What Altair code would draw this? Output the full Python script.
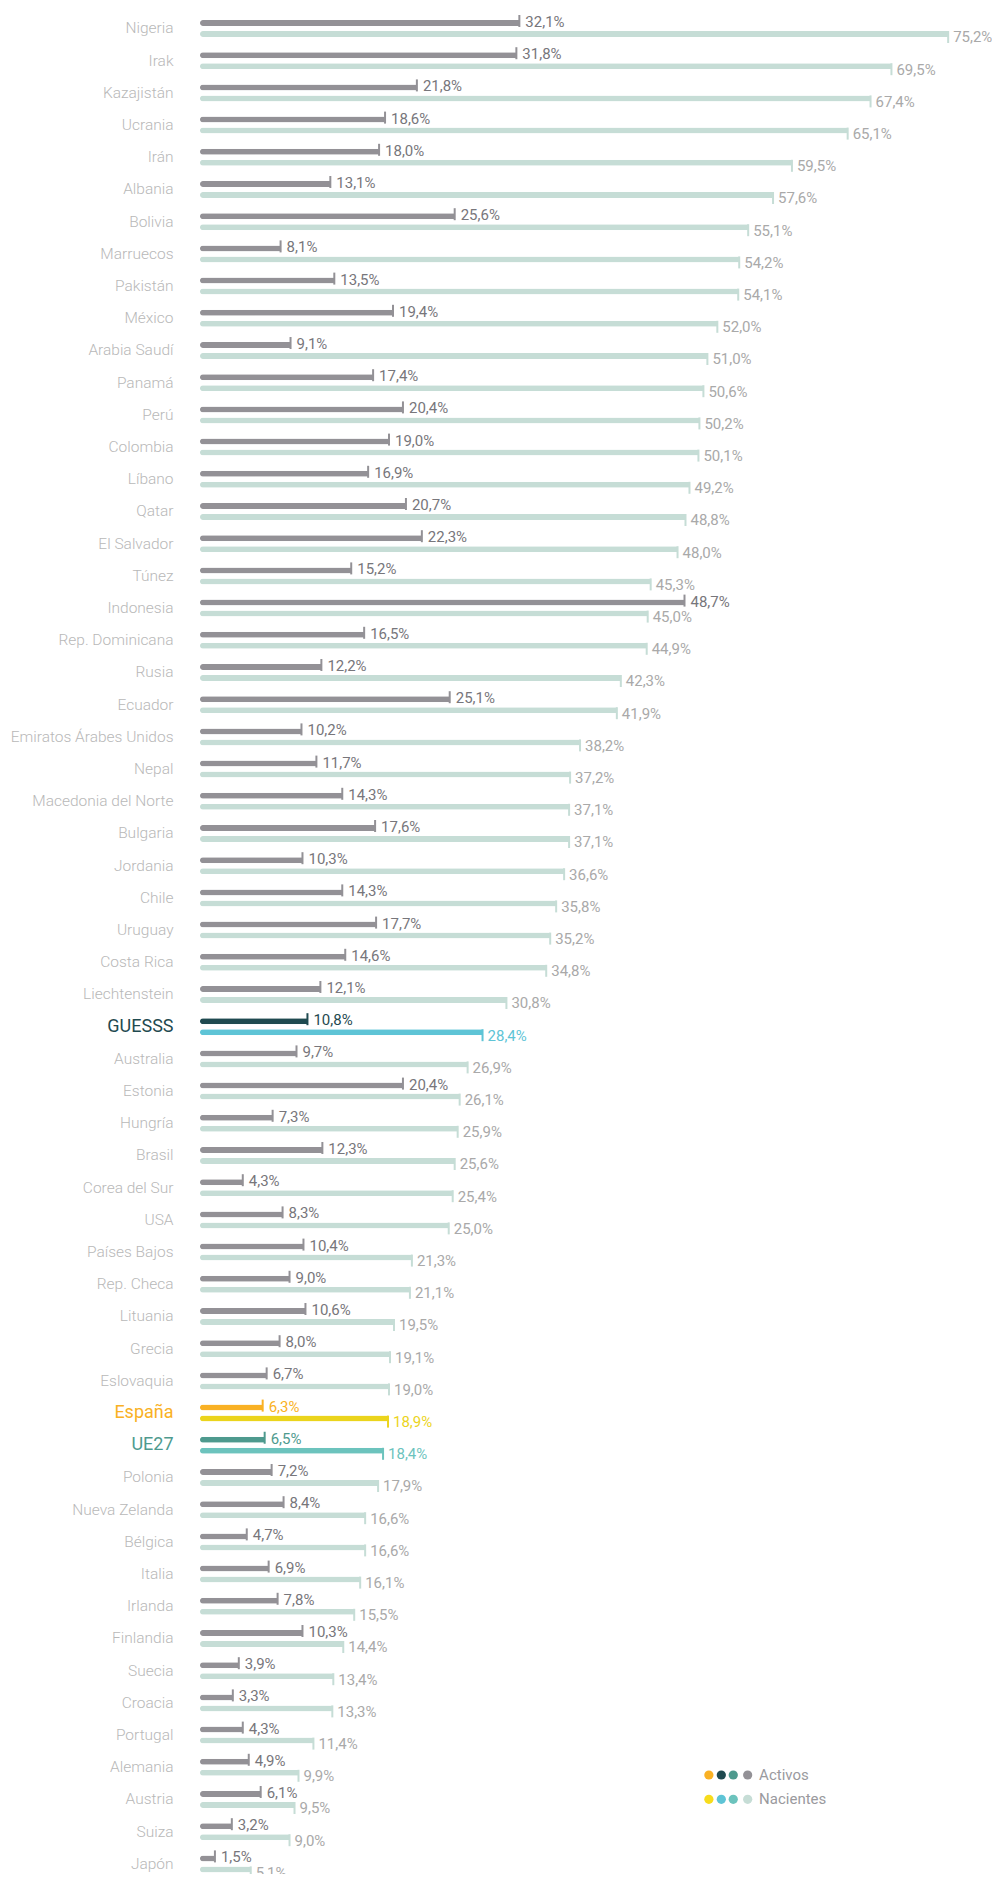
import altair as alt
import pandas as pd

countries = ["Nigeria", "Irak", "Kazajistán", "Ucrania", "Irán", "Albania", "Bolivia", "Marruecos",
             "Pakistán", "México", "Arabia Saudí", "Panamá", "Perú", "Colombia", "Líbano", "Qatar",
             "El Salvador", "Túnez", "Indonesia", "Rep. Dominicana", "Rusia", "Ecuador",
             "Emiratos Árabes Unidos", "Nepal", "Macedonia del Norte", "Bulgaria", "Jordania", "Chile",
             "Uruguay", "Costa Rica", "Liechtenstein", "GUESSS", "Australia", "Estonia", "Hungría",
             "Brasil", "Corea del Sur", "USA", "Países Bajos", "Rep. Checa", "Lituania", "Grecia",
             "Eslovaquia", "España", "UE27", "Polonia", "Nueva Zelanda", "Bélgica", "Italia", "Irlanda",
             "Finlandia", "Suecia", "Croacia", "Portugal", "Alemania", "Austria", "Suiza", "Japón"]
activos = [32.1, 31.8, 21.8, 18.6, 18.0, 13.1, 25.6, 8.1, 13.5, 19.4, 9.1, 17.4, 20.4, 19.0, 16.9, 20.7,
           22.3, 15.2, 48.7, 16.5, 12.2, 25.1, 10.2, 11.7, 14.3, 17.6, 10.3, 14.3, 17.7, 14.6, 12.1, 10.8,
           9.7, 20.4, 7.3, 12.3, 4.3, 8.3, 10.4, 9.0, 10.6, 8.0, 6.7, 6.3, 6.5, 7.2, 8.4, 4.7, 6.9, 7.8,
           10.3, 3.9, 3.3, 4.3, 4.9, 6.1, 3.2, 1.5]
nacientes = [75.2, 69.5, 67.4, 65.1, 59.5, 57.6, 55.1, 54.2, 54.1, 52.0, 51.0, 50.6, 50.2, 50.1, 49.2,
             48.8, 48.0, 45.3, 45.0, 44.9, 42.3, 41.9, 38.2, 37.2, 37.1, 37.1, 36.6, 35.8, 35.2, 34.8,
             30.8, 28.4, 26.9, 26.1, 25.9, 25.6, 25.4, 25.0, 21.3, 21.1, 19.5, 19.1, 19.0, 18.9, 18.4,
             17.9, 16.6, 16.6, 16.1, 15.5, 14.4, 13.4, 13.3, 11.4, 9.9, 9.5, 9.0, 5.1]

# highlight colours: (activos bar, nacientes bar)
highlight = {
    "GUESSS": ("#1f4a50", "#5ec4d6"),
    "España": ("#f9b124", "#ebd41c"),
    "UE27": ("#4e9a8e", "#6cc3bd"),
}
ACT = "#939196"
NAC = "#c6ddd6"
ACT_TXT = "#77767b"
NAC_TXT = "#a9a9a9"
LAB = "#b8b8b8"

legend_series = ["Activos", "Nacientes"]
legend_act_colors = ["#f9b124", "#1f4a50", "#4e9a8e", "#939196"]
legend_nac_colors = ["#f7dc1c", "#5ec4d6", "#6cc3bd", "#c6ddd6"]
legend_x = [51.15, 52.4, 53.6, 55.05]
legend_text_x = 56.2


def fmt(v):
    return f"{v:.1f}".replace(".", ",") + "%"


df = pd.DataFrame({"country": countries, "activos": activos, "nacientes": nacientes})
df["act_lab"] = df["activos"].map(fmt)
df["nac_lab"] = df["nacientes"].map(fmt)
df["c_act"] = [highlight[c][0] if c in highlight else ACT for c in countries]
df["c_nac"] = [highlight[c][1] if c in highlight else NAC for c in countries]
df["t_act"] = [highlight[c][0] if c in highlight else ACT_TXT for c in countries]
df["t_nac"] = [highlight[c][1] if c in highlight else NAC_TXT for c in countries]

FONT = "Roboto"

hl_test = "(datum.value == 'GUESSS' || datum.value == 'España' || datum.value == 'UE27')"
lab_color_expr = ("datum.value == 'GUESSS' ? '#1f4a50' : datum.value == 'España' ? '#f9b124' : "
                  "datum.value == 'UE27' ? '#4e9a8e' : '" + LAB + "'")
lab_size_expr = hl_test + " ? 18 : 15.5"
lab_weight_expr = hl_test + " ? 400 : 300"

W = 776
X_MAX = 78.0
STEP = 32.2

xs = alt.Scale(domain=[0, X_MAX], nice=False, zero=True)
x_act = alt.X("activos:Q", scale=xs, axis=None)
x_nac = alt.X("nacientes:Q", scale=xs, axis=None)
y_enc = alt.Y("country:N", sort=countries, title=None,
              scale=alt.Scale(paddingInner=0, paddingOuter=0, range=[0, STEP * len(countries)]),
              axis=alt.Axis(domain=False, ticks=False, grid=False, labelPadding=27,
                            labelFont=FONT, labelFontSize=alt.expr(lab_size_expr),
                            labelFontWeight=alt.expr(lab_weight_expr),
                            labelColor=alt.expr(lab_color_expr), labelLimit=300))

base = alt.Chart(df)

act_bar = base.mark_bar(size=6, yOffset=-5.5, cornerRadiusTopLeft=3, cornerRadiusBottomLeft=3).encode(
    x=x_act, y=y_enc, color=alt.Color("c_act:N", scale=None))
act_tick = base.mark_tick(orient="vertical", size=12, thickness=2, yOffset=-7.5, opacity=1).encode(
    x=x_act, y=y_enc, color=alt.Color("c_act:N", scale=None))
act_txt = base.mark_text(align="left", baseline="alphabetic", dx=6, dy=-1.5, font=FONT, fontSize=15).encode(
    x=x_act, y=y_enc, text="act_lab:N", color=alt.Color("t_act:N", scale=None))

nac_bar = base.mark_bar(size=6, yOffset=5.5, cornerRadiusTopLeft=3, cornerRadiusBottomLeft=3).encode(
    x=x_nac, y=y_enc, color=alt.Color("c_nac:N", scale=None))
nac_tick = base.mark_tick(orient="vertical", size=12, thickness=2, yOffset=8.5, opacity=1).encode(
    x=x_nac, y=y_enc, color=alt.Color("c_nac:N", scale=None))
nac_txt = base.mark_text(align="left", baseline="alphabetic", dx=5, dy=14, font=FONT, fontSize=15).encode(
    x=x_nac, y=y_enc, text="nac_lab:N", color=alt.Color("t_nac:N", scale=None))

leg_act = pd.DataFrame({"lx": legend_x, "color": legend_act_colors})
leg_nac = pd.DataFrame({"lx": legend_x, "color": legend_nac_colors})
leg_txt = pd.DataFrame({"lx": [legend_text_x, legend_text_x], "label": legend_series})

l1 = alt.Chart(leg_act).mark_circle(size=85, opacity=1).encode(
    x=alt.X("lx:Q", scale=xs, axis=None), y=alt.value(1762.6), color=alt.Color("color:N", scale=None))
l2 = alt.Chart(leg_nac).mark_circle(size=85, opacity=1).encode(
    x=alt.X("lx:Q", scale=xs, axis=None), y=alt.value(1786.9), color=alt.Color("color:N", scale=None))
l3 = alt.Chart(leg_txt.iloc[[0]]).mark_text(align="left", baseline="middle", font=FONT, fontSize=15,
                                            color="#9a9a9e").encode(
    x=alt.X("lx:Q", scale=xs, axis=None), y=alt.value(1762.6), text="label:N")
l4 = alt.Chart(leg_txt.iloc[[1]]).mark_text(align="left", baseline="middle", font=FONT, fontSize=15,
                                            color="#9a9a9e").encode(
    x=alt.X("lx:Q", scale=xs, axis=None), y=alt.value(1786.9), text="label:N")

chart = alt.layer(act_bar, nac_bar, act_tick, nac_tick, act_txt, nac_txt, l1, l2, l3, l4).properties(
    width=W, height=1862,
    autosize=alt.AutoSizeParams(type="none"),
    padding={"left": 192, "top": 4.4, "right": 16, "bottom": 0},
).configure_view(stroke=None)

chart.save("out.html", embed_options={"renderer": "svg", "actions": False})
